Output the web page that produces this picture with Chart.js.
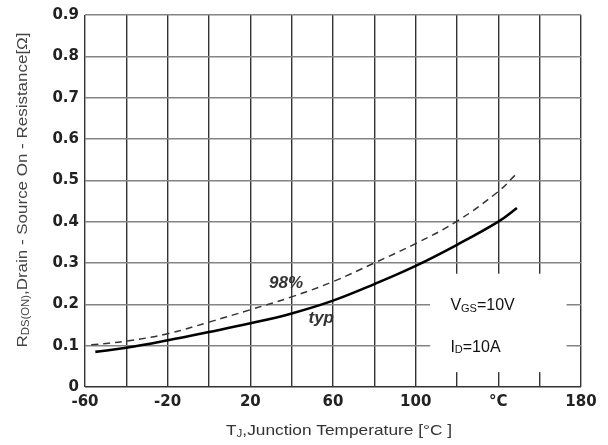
<!DOCTYPE html>
<html>
<head>
<meta charset="utf-8">
<script src="https://cdn.jsdelivr.net/npm/chart.js@4/dist/chart.umd.min.js"></script>
<style>
html,body{margin:0;padding:0;background:#fff;}
#wrap{width:608px;height:445px;position:relative;}
</style>
</head>
<body>
<div id="wrap"><canvas id="c"></canvas></div>
<script>
// ---- data ----
const typTemps  = [-55, -40, -20, 0, 20, 40, 60, 80, 100, 120, 140, 149];
const typValues = [0.085, 0.095, 0.113, 0.133, 0.154, 0.178, 0.209, 0.249, 0.293, 0.344, 0.400, 0.433];
const p98Temps  = [-57, -40, -20, 0, 20, 40, 60, 80, 100, 120, 140, 148];
const p98Values = [0.102, 0.111, 0.129, 0.157, 0.187, 0.218, 0.255, 0.300, 0.347, 0.401, 0.473, 0.512];
const xLabeled  = [-60, -20, 20, 60, 100, 140, 180];
const xLabelText = ['-60', '-20', '20', '60', '100', '°C', '180'];
const yTicks    = [0, 0.1, 0.2, 0.3, 0.4, 0.5, 0.6, 0.7, 0.8, 0.9];

const toXY = (xs, ys) => xs.map((x, i) => ({x: x, y: ys[i]}));

const tickFont = {family: '"DejaVu Sans", Arial, sans-serif', size: 15, weight: 'bold'};

const decorations = {
  id: 'decorations',
  beforeDatasetsDraw(chart) {
    const {ctx} = chart;
    const xs = chart.scales.x, ys = chart.scales.y;
    const x0 = xs.getPixelForValue(107), x1 = xs.getPixelForValue(173);
    const y0 = ys.getPixelForValue(0.274), y1 = ys.getPixelForValue(0.036);
    ctx.save();
    ctx.fillStyle = '#fff';
    ctx.fillRect(x0, y0, x1 - x0, y1 - y0);
    ctx.restore();
  },
  afterDraw(chart) {
    const {ctx} = chart;
    const xs = chart.scales.x, ys = chart.scales.y;
    const measure = parts => parts.reduce((w, p) => { ctx.font = p.font; return w + ctx.measureText(p.t).width; }, 0);
    const drawSub = (x, y, parts, color) => {
      let cx = x;
      parts.forEach(p => {
        ctx.font = p.font;
        ctx.fillStyle = color;
        ctx.textBaseline = 'middle';
        ctx.textAlign = 'left';
        ctx.fillText(p.t, cx, y + (p.dy || 0));
        cx += ctx.measureText(p.t).width;
      });
    };
    // draw text parts centered at (cx, cy) stretched to target width
    const drawFit = (cx, cy, parts, color, target, angle) => {
      const w = measure(parts);
      const sx = target / w;
      ctx.save();
      ctx.translate(cx, cy);
      if (angle) ctx.rotate(angle);
      ctx.scale(sx, 1);
      drawSub(-w / 2, 0, parts, color);
      ctx.restore();
    };
    ctx.save();
    const big = '16px "Liberation Sans", Arial, sans-serif';
    const small = '11px "Liberation Sans", Arial, sans-serif';
    const tx = xs.getPixelForValue(116.8);
    drawSub(tx, ys.getPixelForValue(0.197), [{t:'V', font:big},{t:'GS', font:small, dy:3},{t:'=10V', font:big}], '#111');
    drawSub(tx, ys.getPixelForValue(0.096), [{t:'I', font:big},{t:'D', font:small, dy:3},{t:'=10A', font:big}], '#111');

    // curve labels
    ctx.font = 'italic bold 17px "Liberation Sans", Arial, sans-serif';
    ctx.fillStyle = '#333';
    ctx.textAlign = 'center';
    ctx.textBaseline = 'middle';
    ctx.fillText('98%', xs.getPixelForValue(37.3), ys.getPixelForValue(0.25));
    ctx.fillText('typ', xs.getPixelForValue(54.3), ys.getPixelForValue(0.166));

    // x axis title
    const tFont = '15px "Liberation Sans", Arial, sans-serif';
    const tSmall = '10px "Liberation Sans", Arial, sans-serif';
    drawFit(339, 431,
      [{t:'T', font:tFont},{t:'J', font:tSmall, dy:3},{t:',Junction Temperature [°C ]', font:tFont}],
      '#333', 226, 0);

    // y axis title (rotated)
    drawFit(23, 190,
      [{t:'R', font:tFont},{t:'DS(ON)', font:'10px "Liberation Sans", Arial, sans-serif', dy:3},
       {t:',Drain - Source On - Resistance[Ω]', font:tFont}],
      '#444', 315, -Math.PI / 2);
    ctx.restore();
  }
};

new Chart(document.getElementById('c'), {
  type: 'line',
  data: {
    datasets: [
      {
        label: 'typ',
        data: toXY(typTemps, typValues),
        borderColor: '#000',
        borderWidth: 2.6,
        pointRadius: 0,
        tension: 0.4,
        fill: false
      },
      {
        label: '98%',
        data: toXY(p98Temps, p98Values),
        borderColor: '#333',
        borderWidth: 1.5,
        borderDash: [7, 5],
        pointRadius: 0,
        tension: 0.4,
        fill: false
      }
    ]
  },
  options: {
    responsive: true,
    maintainAspectRatio: false,
    animation: false,
    events: [],
    layout: {padding: {left: 0, top: 13, right: 27, bottom: 0}},
    plugins: {legend: {display: false}, tooltip: {enabled: false}},
    scales: {
      x: {
        type: 'linear',
        min: -60, max: 180,
        afterFit(s) { s.height = 58; },
        border: {display: false},
        grid: {color: '#333', lineWidth: 1.4, drawTicks: false},
        ticks: {
          stepSize: 20,
          autoSkip: false,
          maxRotation: 0,
          padding: 6,
          color: '#222',
          font: tickFont,
          callback: v => { const i = xLabeled.indexOf(v); return i >= 0 ? xLabelText[i] : ''; }
        }
      },
      y: {
        min: 0, max: 0.9,
        afterFit(s) { s.width = 85; },
        afterBuildTicks(s) { s.ticks = yTicks.map(v => ({value: v})); },
        border: {display: false},
        grid: {color: ctx => ctx.tick && ctx.tick.value === 0 ? '#333' : '#848484', lineWidth: 1.6, drawTicks: false},
        ticks: {
          padding: 6,
          color: '#222',
          font: tickFont,
          callback: v => (v === 0 ? '0' : v.toFixed(1))
        }
      }
    }
  },
  plugins: [decorations]
});
</script>
</body>
</html>
